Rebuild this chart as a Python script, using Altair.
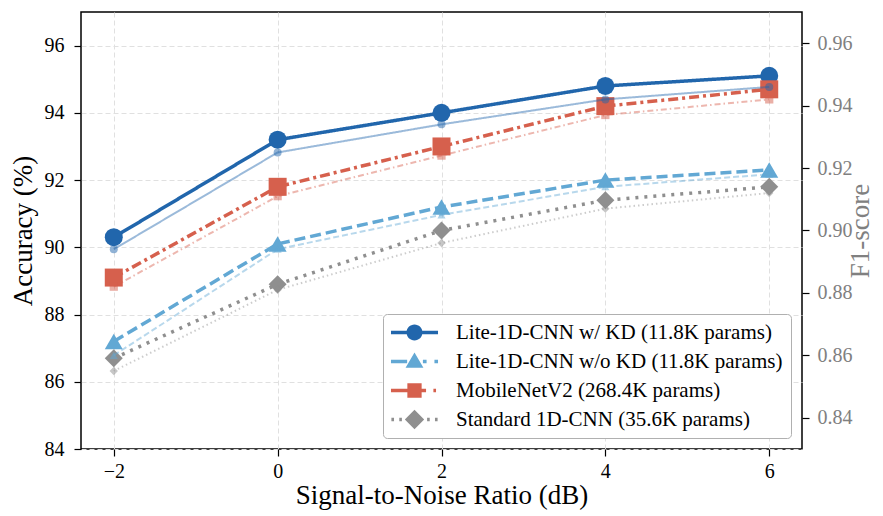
import altair as alt
import pandas as pd

# ---------------- data ----------------
snr = [-2, 0, 2, 4, 6]
models = [
    "Lite-1D-CNN w/ KD (11.8K params)",
    "Lite-1D-CNN w/o KD (11.8K params)",
    "MobileNetV2 (268.4K params)",
    "Standard 1D-CNN (35.6K params)",
]
acc_kd = [90.3, 93.2, 94.0, 94.8, 95.1]
acc_nokd = [87.2, 90.1, 91.2, 92.0, 92.3]
acc_mobile = [89.1, 91.8, 93.0, 94.2, 94.7]
acc_std = [86.7, 88.9, 90.5, 91.4, 91.8]

f1_kd = [0.894, 0.925, 0.934, 0.942, 0.946]
f1_nokd = [0.860, 0.894, 0.905, 0.914, 0.918]
f1_mobile = [0.882, 0.911, 0.924, 0.937, 0.942]
f1_std = [0.855, 0.881, 0.896, 0.907, 0.912]

acc_ticks = [84, 86, 88, 90, 92, 94, 96]
f1_ticks = [0.84, 0.86, 0.88, 0.90, 0.92, 0.94, 0.96]

colors = ["#2166ac", "#62a8d4", "#d6604d", "#8f8f8f"]

rows = []
for m, a, f in zip(models, [acc_kd, acc_nokd, acc_mobile, acc_std],
                   [f1_kd, f1_nokd, f1_mobile, f1_std]):
    for s, av, fv in zip(snr, a, f):
        rows.append({"model": m, "snr": s, "acc": av, "f1": fv})
df = pd.DataFrame(rows)

FONT = "Liberation Serif"

color_scale = alt.Scale(domain=models, range=colors)

x_enc = alt.X(
    "snr:Q",
    scale=alt.Scale(domain=[-2.4, 6.4], nice=False, zero=False),
    axis=alt.Axis(
        values=snr,
        labelExpr="datum.value < 0 ? '\u2212' + abs(datum.value) : '' + datum.value",
        title="Signal-to-Noise Ratio (dB)",
        grid=True, gridDash=[5, 3], gridColor="#e0e0e0", gridWidth=1,
        tickSize=7, tickColor="black", tickWidth=1.2, labelPadding=5,
        titlePadding=1,
    ),
)

acc_axis = alt.Axis(
    values=acc_ticks, orient="left", title="Accuracy (%)",
    grid=True, gridDash=[5, 3], gridColor="#e0e0e0", gridWidth=1,
    tickSize=7, tickColor="black", tickWidth=1.2, labelPadding=10,
    titlePadding=7, labelColor="black", titleColor="black",
)
y_acc = alt.Y("acc:Q", scale=alt.Scale(domain=[84, 97], nice=False, zero=False), axis=acc_axis)

f1_axis = alt.Axis(
    values=f1_ticks, orient="right", title="F1-score", format=".2f",
    grid=False, tickSize=7, tickColor="black", tickWidth=1.2, labelPadding=8,
    titlePadding=-5, labelColor="#808080", titleColor="#808080",
    titleAngle=270, titleBaseline="top",
)
y_f1 = alt.Y("f1:Q", scale=alt.Scale(domain=[0.83, 0.97], nice=False, zero=False), axis=f1_axis)

base = alt.Chart(df)

acc_line = base.mark_line(strokeWidth=3.5).encode(
    x=x_enc, y=y_acc,
    color=alt.Color("model:N", scale=color_scale, legend=None),
    strokeDash=alt.StrokeDash("model:N", scale=alt.Scale(domain=models, range=[[1, 0], [11, 5], [10, 4, 3, 4], [3, 6]]), legend=None),
    detail="model:N",
)
acc_pts = base.mark_point(filled=True, opacity=1, strokeWidth=0).encode(
    x=x_enc, y=y_acc,
    color=alt.Color("model:N", scale=color_scale, legend=None),
    shape=alt.Shape("model:N", scale=alt.Scale(domain=models, range=["circle", "triangle-up", "square", "diamond"]), legend=None),
    size=alt.Size("model:N", scale=alt.Scale(domain=models, range=[324, 324, 289, 500]), legend=None),
)
acc_layer = alt.layer(acc_line, acc_pts)

f1_line = base.mark_line(strokeWidth=2, opacity=0.45).encode(
    x=x_enc, y=y_f1,
    color=alt.Color("model:N", scale=color_scale, legend=None),
    strokeDash=alt.StrokeDash("model:N", scale=alt.Scale(domain=models, range=[[1, 0], [6, 3], [6, 3, 1.5, 3], [1.5, 3]]), legend=None),
    detail="model:N",
)
f1_pts = base.mark_point(filled=True, opacity=0.5, strokeWidth=0).encode(
    x=x_enc, y=y_f1,
    color=alt.Color("model:N", scale=color_scale, legend=None),
    shape=alt.Shape("model:N", scale=alt.Scale(domain=models, range=["circle", "triangle-up", "square", "diamond"]), legend=None),
    size=alt.Size("model:N", scale=alt.Scale(domain=models, range=[64, 70, 56, 90]), legend=None),
)
f1_layer = alt.layer(f1_line, f1_pts)

# legend symbols: line + marker drawn as filled paths
# (unit = 10.5 px, since symbolSize 441 -> sqrt/2 = 10.5)
h = 0.167
def rect(x0, x1):
    return f"M{x0},{-h}L{x1},{-h}L{x1},{h}L{x0},{h}Z"

circle = "M-0.76,0A0.76,0.76 0 1,1 0.76,0A0.76,0.76 0 1,1 -0.76,0Z"
tri = "M0,-0.85L0.85,0.6L-0.85,0.6Z"
sq = "M-0.68,-0.68L0.68,-0.68L0.68,0.68L-0.68,0.68Z"
dia = "M0,-0.92L0.92,0L0,0.92L-0.92,0Z"
L = 2.24
legend_paths = [
    rect(-L, -0.7) + rect(0.7, L) + circle,
    rect(-L, -0.7) + rect(0.8, 1.15) + rect(1.9, L) + tri,
    rect(-L, -0.65) + rect(0.65, 1.1) + rect(1.8, 2.05) + sq,
    rect(-2.2, -1.95) + rect(-1.45, -1.2) + rect(1.2, 1.45) + rect(1.95, 2.2) + dia,
]

legend_cfg = alt.Legend(
    title=None, orient="bottom-right", offset=11,
    labelFont=FONT, labelFontSize=21, labelColor="black", labelLimit=500,
    symbolSize=441, symbolStrokeWidth=0, symbolOffset=13, labelOffset=31,
    rowPadding=7, padding=8, strokeColor="#b0b0b0", fillColor="white",
    cornerRadius=4, symbolOpacity=1,
)
carrier = base.mark_point(filled=True, opacity=1).encode(
    color=alt.Color("model:N", scale=alt.Scale(domain=models, range=colors), legend=legend_cfg),
    shape=alt.Shape("model:N", scale=alt.Scale(domain=models, range=legend_paths), legend=legend_cfg),
).transform_filter("false")

chart = alt.layer(acc_layer, f1_layer, carrier).resolve_scale(
    y="independent", shape="independent", color="independent",
    size="independent", strokeDash="independent",
).properties(
    width=721, height=437,
    autosize=alt.AutoSizeParams(type="none"),
    padding={"left": 73, "top": 4, "right": 72, "bottom": 64},
).configure_view(
    stroke="black", strokeWidth=1.5,
).configure_axis(
    labelFont=FONT, titleFont=FONT, labelFontSize=20, titleFontSize=27,
    titleFontWeight="normal", domain=False,
).configure_legend(
    labelFont=FONT,
)

chart.save("out.html", embed_options={"renderer": "svg", "actions": False})
